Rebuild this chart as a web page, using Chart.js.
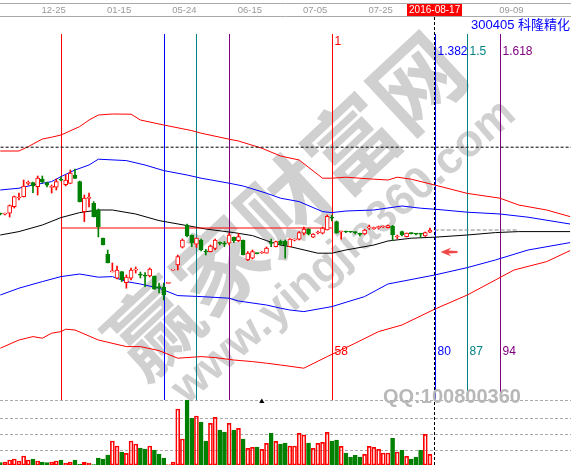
<!DOCTYPE html>
<html>
<head>
<meta charset="utf-8">
<script src="https://cdn.jsdelivr.net/npm/chart.js@4.4.1/dist/chart.umd.min.js"></script>
<style>
  html, body { margin: 0; padding: 0; background: #fff; }
  canvas { display: block; }
</style>
</head>
<body>
<canvas id="kline" width="571" height="465"></canvas>
<script>
// 300405 科隆精化 日K：布林带 + 斐波那契时间周期 + 成交量
const stockName = '300405 科隆精化';
const dateTicks = [11, 25, 39, 53, 67, 81, 109];
const dateLabels = ['12-25', '01-15', '05-24', '06-15', '07-05', '07-25', '09-09'];
const cursorIdx = 93;
const cursorDate = '2016-08-17';

// K线 (开/高/低/收)
const openP = [30.16, 30.14, 30.19, 30.52, 30.95, 31.02, 31.68, 31.72, 31.52, 31.9,
  31.72, 31.48, 31.49, 31.86, 31.62, 31.68, 32.1, 31.77, 30.27, 30.93,
  30.68, 30.35, 28.94, 28.13, 27.26, 26.94, 27.27, 26.72, 26.94, 27.34,
  27.11, 27.06, 27.05, 27.05, 26.49, 26.49, 26.68, 27.34, 27.6, 28.49,
  29.6, 29.1, 28.64, 28.85, 28.27, 28.27, 28.43, 28.7, 28.66, 28.69,
  28.98, 28.82, 28.85, 27.85, 27.94, 28.19, 28.2, 28.19, 28.7, 28.52,
  28.78, 28.8, 28.52, 28.84, 28.89, 29.19, 29.39, 28.99, 29.2, 29.19,
  29.35, 29.96, 29.77, 29.25, 29.27, 29.27, 29.24, 29.15, 29.15, 29.46,
  29.42, 29.47, 29.5, 29.47, 29.55, 29.0, 29.27, 29.02, 29.19, 29.16,
  29.16, 29.05, 29.24];
const highP = [30.2, 30.2, 30.6, 31.05, 31.2, 31.85, 31.8, 31.75, 32.05, 32.05,
  31.75, 31.6, 31.9, 32.0, 32.1, 32.35, 32.4, 31.8, 31.1, 31.2,
  30.77, 30.4, 28.94, 28.35, 27.7, 27.55, 27.27, 27.1, 27.45, 27.5,
  27.25, 27.22, 27.45, 27.05, 26.7, 26.7, 26.7, 27.36, 28.1, 28.9,
  29.65, 29.1, 28.95, 28.9, 28.38, 28.6, 28.9, 28.75, 28.77, 29.18,
  29.0, 29.18, 28.85, 28.27, 28.35, 28.2, 28.27, 28.5, 28.89, 28.8,
  28.85, 28.85, 28.92, 28.9, 29.27, 29.49, 29.42, 29.17, 29.3, 29.5,
  30.1, 30.1, 29.8, 29.3, 29.3, 29.28, 29.26, 29.2, 29.38, 29.6,
  29.5, 29.55, 29.56, 29.6, 29.58, 29.1, 29.3, 29.2, 29.22, 29.18,
  29.18, 29.25, 29.44];
const lowP = [30.1, 30.1, 30.0, 30.45, 30.85, 31.0, 31.6, 31.22, 31.1, 31.7,
  31.5, 31.2, 31.35, 31.8, 31.55, 31.68, 31.93, 30.75, 29.77, 30.5,
  30.0, 29.0, 28.6, 27.7, 27.25, 26.9, 26.77, 26.44, 26.85, 27.2,
  26.95, 26.52, 27.0, 26.38, 26.2, 25.85, 26.68, 27.34, 27.35, 28.45,
  29.0, 28.52, 28.48, 28.3, 28.1, 28.25, 28.35, 28.6, 28.52, 28.6,
  28.72, 28.77, 28.1, 27.82, 27.9, 28.15, 28.18, 28.19, 28.52, 28.5,
  28.6, 27.94, 28.5, 28.8, 28.85, 29.1, 29.1, 28.97, 29.15, 29.15,
  29.35, 29.8, 29.19, 28.89, 29.22, 29.22, 29.15, 29.05, 29.12, 29.38,
  29.38, 29.4, 29.47, 29.45, 28.82, 28.92, 29.05, 29.0, 29.15, 29.1,
  28.98, 29.03, 29.22];
const closeP = [30.14, 30.16, 30.57, 31.02, 30.97, 31.55, 31.72, 31.55, 31.95, 31.77,
  31.59, 31.5, 31.77, 31.84, 31.85, 32.2, 31.93, 30.77, 30.94, 30.95,
  30.02, 29.52, 28.6, 27.72, 27.28, 27.35, 26.85, 26.99, 27.35, 27.36,
  27.09, 27.04, 27.39, 26.39, 26.47, 26.1, 26.7, 27.36, 28.02, 28.85,
  29.05, 28.7, 28.94, 28.35, 28.25, 28.55, 28.85, 28.68, 28.64, 29.1,
  28.82, 29.02, 28.1, 28.19, 28.27, 28.17, 28.22, 28.44, 28.68, 28.77,
  28.63, 28.6, 28.89, 28.86, 29.22, 29.39, 29.14, 29.15, 29.22, 29.44,
  30.03, 29.94, 29.19, 29.27, 29.25, 29.25, 29.22, 29.13, 29.35, 29.48,
  29.44, 29.49, 29.52, 29.57, 29.1, 29.02, 29.1, 29.19, 29.17, 29.14,
  29.14, 29.22, 29.35];
// 成交量 (万手)
const volume = [0.23, 0.3, 0.5, 0.6, 0.4, 0.9, 0.5, 0.6, 0.4, 0.3,
  0.23, 0.3, 0.4, 0.5, 0.17, 0.3, 0.5, 0.1, 0.27, 0.2,
  0.03, 0.7, 0.6, 1.0, 2.4, 1.9, 1.3, 1.17, 2.4, 2.1,
  1.7, 1.6, 1.9, 1.5, 1.1, 0.7, 0.03, 0.3, 5.6, 2.6,
  6.5, 4.67, 4.9, 4.3, 2.4, 4.17, 4.77, 3.5, 3.3, 4.17,
  3.5, 3.67, 2.6, 1.67, 1.77, 1.8, 1.57, 2.17, 3.17, 2.37,
  2.1, 2.2, 1.9, 1.9, 3.17, 3.0, 2.2, 1.67, 2.17, 2.27,
  3.27, 2.4, 2.5, 1.87, 1.2, 0.8, 0.97, 0.8, 1.07, 1.87,
  1.77, 1.57, 1.2, 1.2, 2.67, 1.3, 1.47, 0.87, 0.6, 0.8,
  1.47, 3.07, 1.07];
const volGrid = [1.5, 3.1, 4.7, 6.5];
const volMarker = [56, 6.35];

// 布林带各轨 [序号, 价格]
const bollUpper2 = [[0, 33.30], [4, 33.30], [6, 33.52], [9, 33.90], [11, 33.99], [13, 34.10], [17, 34.52],
  [19, 34.85], [21, 35.10], [24, 35.15], [28, 35.14], [30, 34.85], [35, 34.60], [41, 34.32], [43, 34.19],
  [49, 33.89], [51, 33.80], [56, 33.44], [60, 33.05], [64, 32.85], [69, 31.94], [71, 31.94], [74, 31.99],
  [80, 31.89], [83, 31.85], [85, 31.99], [88, 31.89], [93, 31.60], [100, 31.18], [107, 30.94], [111, 30.60],
  [117, 30.35], [122, 30.02]];
const bollUpper = [[0, 31.35], [4, 31.44], [7, 31.60], [11, 31.77], [13, 32.02], [16, 32.35], [19, 32.60],
  [21, 32.89], [27, 32.82], [31, 32.60], [35, 32.32], [40, 32.10], [43, 31.94], [49, 31.69], [52, 31.55],
  [57, 31.19], [60, 30.94], [64, 30.77], [69, 30.27], [71, 30.22], [74, 30.30], [80, 30.35], [86, 30.55],
  [90, 30.44], [93, 30.39], [100, 30.24], [107, 30.15], [113, 29.99], [122, 29.65]];
const bollMid = [[0, 29.10], [4, 29.27], [9, 29.60], [13, 29.97], [17, 30.22], [21, 30.35], [24, 30.35],
  [29, 30.15], [34, 29.82], [40, 29.57], [44, 29.40], [50, 29.22], [54, 29.07], [57, 28.82], [60, 28.60],
  [62, 28.52], [68, 28.19], [71, 28.19], [74, 28.35], [80, 28.60], [83, 28.80], [88, 28.94], [93, 28.99],
  [100, 29.10], [106, 29.22], [111, 29.27], [122, 29.27]];
const bollLower = [[0, 26.10], [4, 26.44], [9, 26.77], [13, 27.02], [17, 27.15], [21, 26.99], [24, 27.02],
  [27, 26.77], [30, 26.65], [34, 26.44], [38, 26.07], [43, 26.02], [49, 25.94], [51, 25.80], [57, 25.60],
  [60, 25.44], [62, 25.35], [65, 25.27], [71, 25.52], [78, 26.02], [83, 26.65], [93, 27.10], [100, 27.47],
  [106, 27.85], [113, 28.35], [122, 28.72]];
const bollLower2 = [[0, 23.44], [4, 23.85], [7, 24.02], [9, 23.94], [11, 24.19], [13, 24.27], [14, 24.39],
  [16, 24.35], [21, 23.85], [27, 23.52], [30, 23.52], [34, 23.32], [38, 22.94], [43, 23.02], [46, 22.97],
  [50, 22.85], [54, 22.77], [57, 22.69], [60, 22.60], [65, 22.44], [70, 23.02], [76, 23.69], [81, 24.27],
  [86, 24.60], [93, 25.39], [100, 26.10], [106, 26.85], [110, 27.35], [117, 27.77], [122, 28.32]];

// 画线：水平参考线、斐波那契起止连线
const levelPrice = 33.49;
const fibBase = [[13, 29.45], [71, 29.45]];
const lastCloseEnd = 111;

// 斐波那契时间周期
const fibIdx = [13, 35, 42, 49, 71, 93, 100, 107];
const fibColor = ['#ff0000', '#0000ff', '#008080', '#800080', '#ff0000', '#0000ff', '#008080', '#800080'];
const fibTopText = ['', '', '', '', '1', '1.382', '1.5', '1.618'];
const fibBottomText = ['', '', '', '', '58', '80', '87', '94'];

const RED = '#ff0000';
const GREEN = '#008000';
const isUp = i => closeP[i] >= openP[i];
const pts = arr => arr.map(([i, v]) => ({ x: i, y: v }));

const overlay = {
  id: 'overlay',
  beforeDatasetsDraw(chart) {
    const { ctx, scales: { x, yv } } = chart;
    const X = i => Math.round(x.getPixelForValue(i)) + 0.5;

    // 水印
    ctx.save();
    ctx.fillStyle = '#d0d0d0';
    ctx.textAlign = 'center';
    ctx.textBaseline = 'middle';
    ctx.save();
    ctx.translate(285, 205);
    ctx.rotate(-43 * Math.PI / 180);
    ctx.font = 'bold 90px "Noto Sans CJK SC"';
    ctx.fillText('赢家财富网', 0, 0);
    ctx.restore();
    ctx.save();
    ctx.translate(344, 252);
    ctx.rotate(-41 * Math.PI / 180);
    ctx.font = 'bold 45px "Liberation Sans"';
    ctx.fillText('www.yingjia360.com', 0, 0);
    ctx.restore();
    ctx.restore();

    // 成交量虚线网格
    ctx.save();
    ctx.strokeStyle = '#aaaaaa';
    ctx.lineWidth = 1;
    ctx.setLineDash([3, 2]);
    volGrid.forEach(v => {
      const py = Math.round(yv.getPixelForValue(v)) + 0.5;
      ctx.beginPath();
      ctx.moveTo(0, py);
      ctx.lineTo(chart.width, py);
      ctx.stroke();
    });
    ctx.restore();

    // 时间周期竖线
    ctx.save();
    ctx.lineWidth = 1;
    fibIdx.forEach((i, k) => {
      ctx.strokeStyle = fibColor[k];
      ctx.beginPath();
      ctx.moveTo(X(i), 34);
      ctx.lineTo(X(i), 400);
      ctx.stroke();
    });
    ctx.restore();
  },
  afterDatasetsDraw(chart) {
    const { ctx, scales: { x, y } } = chart;
    const X = i => Math.round(x.getPixelForValue(i)) + 0.5;
    ctx.save();

    // 当前日期虚线
    ctx.strokeStyle = '#000';
    ctx.lineWidth = 1;
    ctx.setLineDash([3, 2]);
    ctx.beginPath();
    ctx.moveTo(X(cursorIdx) - 1, 17);
    ctx.lineTo(X(cursorIdx) - 1, chart.height);
    ctx.stroke();
    ctx.setLineDash([]);

    // 周期标注
    ctx.font = '12px "Liberation Sans"';
    ctx.textAlign = 'left';
    ctx.textBaseline = 'alphabetic';
    fibIdx.forEach((i, k) => {
      ctx.fillStyle = fibColor[k];
      if (fibTopText[k]) ctx.fillText(fibTopText[k], X(i) + 2, fibTopText[k] === '1' ? 45 : 55);
      if (fibBottomText[k]) ctx.fillText(fibBottomText[k], X(i) + 2, 355);
    });

    // 股票名称
    ctx.fillStyle = '#0000ff';
    ctx.font = '13px "Liberation Sans", "Noto Sans CJK SC"';
    ctx.textAlign = 'right';
    ctx.fillText(stockName, 570, 29);

    // 红色箭头
    const ax = X(cursorIdx) + 5;
    const ay = Math.round(y.getPixelForValue(28.25));
    ctx.fillStyle = '#f04848';
    ctx.beginPath();
    ctx.moveTo(ax, ay);
    ctx.lineTo(ax + 11, ay - 4.5);
    ctx.lineTo(ax + 8, ay - 1.5);
    ctx.lineTo(ax + 17, ay - 1);
    ctx.lineTo(ax + 17, ay + 1);
    ctx.lineTo(ax + 8, ay + 1.5);
    ctx.lineTo(ax + 11, ay + 4.5);
    ctx.closePath();
    ctx.fill();

    // QQ
    ctx.fillStyle = '#b8b8b8';
    ctx.font = 'bold 20px "Liberation Sans"';
    ctx.textAlign = 'left';
    ctx.fillText('QQ:100800360', 383, 403);
    ctx.restore();
  },
  afterDraw(chart) {
    const { ctx, scales: { x } } = chart;
    ctx.save();
    ctx.strokeStyle = '#aaaaaa';
    ctx.lineWidth = 1;
    ctx.beginPath();
    ctx.moveTo(0, 3.5);
    ctx.lineTo(chart.width, 3.5);
    ctx.moveTo(0, 16.5);
    ctx.lineTo(chart.width, 16.5);
    ctx.stroke();

    // 当前日期高亮
    const cx = x.getPixelForValue(cursorIdx);
    ctx.fillStyle = RED;
    ctx.fillRect(Math.round(cx - 28), 4, 55, 12);
    ctx.fillStyle = '#fff';
    ctx.font = '10px "Liberation Sans"';
    ctx.textAlign = 'center';
    ctx.textBaseline = 'middle';
    ctx.fillText(cursorDate, cx, 10.5);
    ctx.restore();
  }
};

const lineSet = (data, color, order, extra) => Object.assign({
  type: 'line', data, yAxisID: 'y', borderColor: color, borderWidth: 1,
  pointRadius: 0, tension: 0, order
}, extra || {});

new Chart(document.getElementById('kline'), {
  data: {
    datasets: [
      {
        type: 'bar', label: 'body', yAxisID: 'y', order: 1, grouped: false,
        data: openP.map((o, i) => ({ x: i, y: [o, closeP[i]] })),
        barThickness: 4, minBarLength: 1, borderWidth: 1, borderSkipped: false,
        backgroundColor: c => isUp(c.dataIndex) ? '#ffffff' : GREEN,
        borderColor: c => isUp(c.dataIndex) ? RED : GREEN
      },
      {
        type: 'bar', label: 'wick', yAxisID: 'y', order: 2, grouped: false,
        data: lowP.map((l, i) => ({ x: i, y: [l, highP[i]] })),
        barThickness: 1, borderWidth: 0,
        backgroundColor: c => isUp(c.dataIndex) ? RED : GREEN
      },
      {
        type: 'bar', label: 'volume', yAxisID: 'yv', order: 3, grouped: false,
        data: volume.map((v, i) => ({ x: i, y: v })),
        barThickness: 4, borderWidth: 1, borderSkipped: false,
        backgroundColor: c => isUp(c.dataIndex) ? 'rgba(255,255,255,0)' : GREEN,
        borderColor: c => isUp(c.dataIndex) ? RED : GREEN
      },
      {
        type: 'scatter', label: 'mark', yAxisID: 'yv', order: 0,
        data: [{ x: volMarker[0], y: volMarker[1] }],
        pointStyle: 'triangle', pointRadius: 3, backgroundColor: '#000', borderColor: '#000', borderWidth: 0
      },
      lineSet([{ x: -1, y: levelPrice }, { x: 123, y: levelPrice }], '#000', 4, { borderDash: [3, 2] }),
      lineSet(pts(fibBase), RED, 4),
      lineSet([{ x: cursorIdx, y: closeP[closeP.length - 1] }, { x: lastCloseEnd, y: closeP[closeP.length - 1] }], '#888', 4, { borderDash: [4, 2] }),
      lineSet(pts(bollUpper2), RED, 5),
      lineSet(pts(bollUpper), '#0000ff', 5),
      lineSet(pts(bollMid), '#000', 5),
      lineSet(pts(bollLower), '#0000ff', 5),
      lineSet(pts(bollLower2), RED, 5)
    ]
  },
  options: {
    responsive: false,
    animation: false,
    events: [],
    layout: { padding: 0, autoPadding: false },
    plugins: { legend: { display: false }, tooltip: { enabled: false } },
    scales: {
      x: {
        type: 'linear', position: 'top', min: -0.06, max: 122.2, offset: false,
        afterFit: s => { s.height = 17; },
        afterBuildTicks: s => { s.ticks = dateTicks.map(v => ({ value: v })); },
        ticks: {
          autoSkip: false, maxRotation: 0, padding: 1, labelOffset: 2,
          color: '#999999', font: { size: 9.5, family: '"Liberation Sans"' },
          callback: v => { const k = dateTicks.indexOf(v); return k < 0 ? '' : dateLabels[k]; }
        },
        grid: { display: false, drawTicks: false, offset: false },
        border: { display: false }
      },
      y: { type: 'linear', display: false, min: 17.6, max: 40 },
      yv: { type: 'linear', display: false, min: 0, max: 44.8 }
    }
  },
  plugins: [overlay]
});
</script>
</body>
</html>
